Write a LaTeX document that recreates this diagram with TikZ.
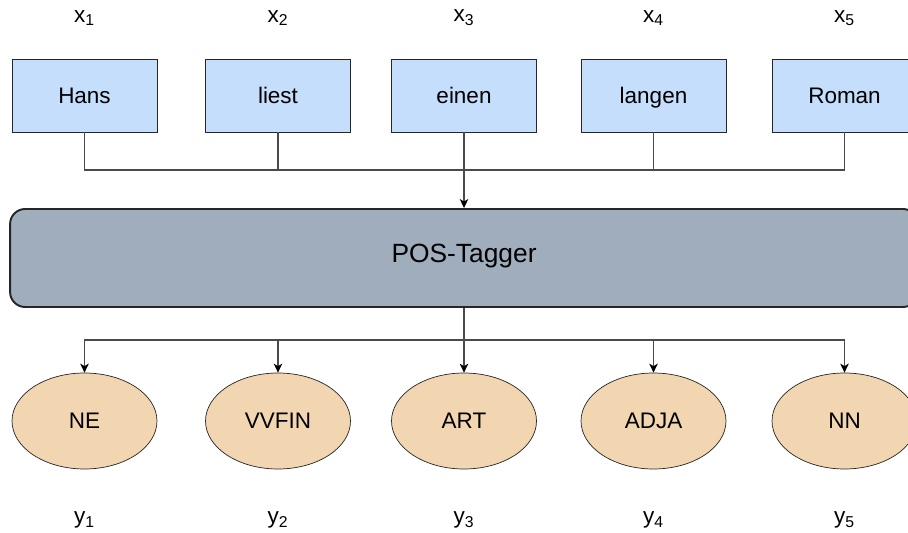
\documentclass[tikz,border=0pt]{standalone}
\usepackage{fontspec}
\setmainfont{Liberation Sans}
\usepackage{xcolor}
\usepackage{tikz}
\usetikzlibrary{arrows.meta,shapes.geometric}

\definecolor{wordblue}{HTML}{C4DEFC}
\definecolor{taggray}{HTML}{A0ADBC}
\definecolor{tagtan}{HTML}{F2D6B2}
\definecolor{linegray}{HTML}{4A4A4A}

\begin{document}
\begin{tikzpicture}[x=0.02cm, y=-0.02cm,
  word/.style={draw=black!85, fill=wordblue, minimum width=2.9cm, minimum height=1.46cm, inner sep=0pt, text height=9.2pt, text depth=0pt, font=\fontsize{12.8}{15}\selectfont},
  tagger/.style={draw=black!85, line width=1.1pt, fill=taggray, rounded corners=0.3cm, minimum width=18.16cm, minimum height=1.96cm, text height=6.9pt, text depth=1.9pt, font=\fontsize{15}{18}\selectfont},
  tag/.style={ellipse, draw=black!85, fill=tagtan, minimum width=2.9cm, minimum height=1.92cm, inner sep=0pt, font=\fontsize{12.8}{15}\selectfont},
  var/.style={font=\fontsize{12.8}{15}\selectfont, inner sep=1pt},
  line/.style={linegray, line width=0.7pt},
  arr/.style={line, -{Stealth[length=1.8mm, width=1.7mm, inset=0.5mm, black]}}
]
\clip (0,0) rectangle (908,533);
\fill[white] (0,0) rectangle (908,533);

% input words
\node[var]  (x1)    at (84.5,18)   {x\textsubscript{1}};
\node[var]  (x2)    at (278,18)    {x\textsubscript{2}};
\node[var]  (x3)    at (464,18)    {x\textsubscript{3}};
\node[var]  (x4)    at (653.5,18)  {x\textsubscript{4}};
\node[var]  (x5)    at (844.5,18)  {x\textsubscript{5}};
\node[word] (hans)  at (84.5,95.5) {Hans};
\node[word] (liest) at (278,95.5)  {liest};
\node[word] (einen) at (464,95.5)  {einen};
\node[word] (langen) at (653.5,95.5) {langen};
\node[word] (roman) at (844.5,95.5) {Roman};

\node[tagger] (pos) at (464,258) {POS-Tagger};

% output tags
\node[tag] (ne)    at (84.5,421)  {NE};
\node[tag] (vvfin) at (278,421)   {VVFIN};
\node[tag] (art)   at (464,421)   {ART};
\node[tag] (adja)  at (653.5,421) {ADJA};
\node[tag] (nn)    at (844.5,421) {NN};
\node[var] (y1) at (84.5,520)  {y\textsubscript{1}};
\node[var] (y2) at (278,520)   {y\textsubscript{2}};
\node[var] (y3) at (464,520)   {y\textsubscript{3}};
\node[var] (y4) at (653.5,520) {y\textsubscript{4}};
\node[var] (y5) at (844.5,520) {y\textsubscript{5}};

\coordinate (inbus)  at (464,170);
\coordinate (outbus) at (464,340);

\draw[line] (hans) |- (inbus);
\draw[line] (liest) |- (inbus);
\draw[line] (langen) |- (inbus);
\draw[line] (roman) |- (inbus);
\draw[arr] (einen) -- (pos);

\draw[line] (pos) -- (outbus);
\draw[arr] (outbus) -| (ne);
\draw[arr] (outbus) -| (vvfin);
\draw[arr] (outbus) -- (art);
\draw[arr] (outbus) -| (adja);
\draw[arr] (outbus) -| (nn);
\end{tikzpicture}
\end{document}
